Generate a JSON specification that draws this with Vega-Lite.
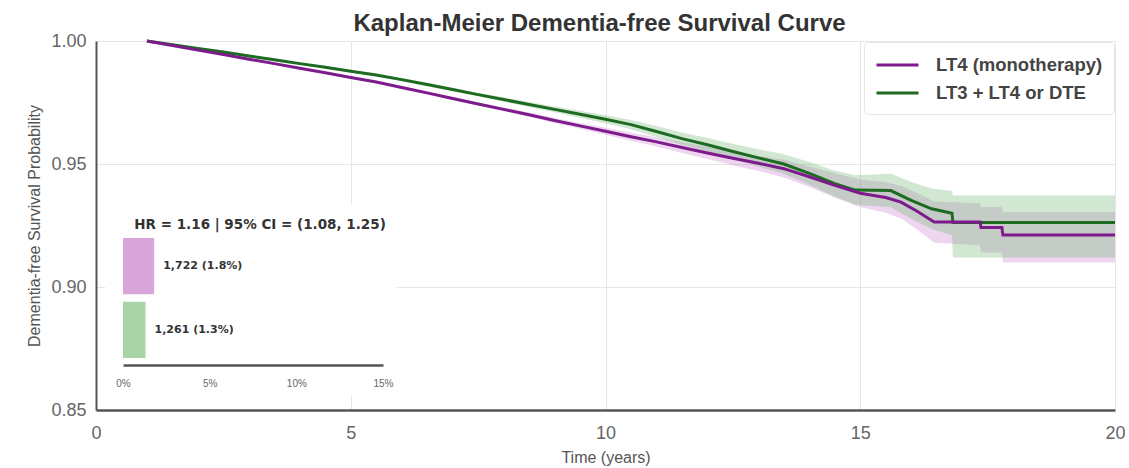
{
  "$schema": "https://vega.github.io/schema/vega-lite/v6.json",
  "width": 1019,
  "height": 369,
  "autosize": {"type": "none"},
  "padding": {"left": 96, "top": 41, "right": 14, "bottom": 58},
  "background": "white",
  "config": {"view": {"stroke": null}, "font": "Liberation Sans"},
  "title": {"text": "Kaplan-Meier Dementia-free Survival Curve", "fontSize": 24, "font": "Liberation Sans", "fontWeight": "bold", "color": "#333333", "anchor": "middle", "frame": "group", "offset": 3, "dy": 7, "dx": -6},
  "datasets": {
    "km": [
      {"g": "LT3 + LT4 or DTE", "t": 1.0, "s": 1.0, "lo": 0.9997, "hi": 1.0},
      {"g": "LT3 + LT4 or DTE", "t": 1.5, "s": 0.9985, "lo": 0.998, "hi": 0.999},
      {"g": "LT3 + LT4 or DTE", "t": 2.0, "s": 0.997, "lo": 0.9965, "hi": 0.9975},
      {"g": "LT3 + LT4 or DTE", "t": 2.5, "s": 0.9955, "lo": 0.995, "hi": 0.996},
      {"g": "LT3 + LT4 or DTE", "t": 3.0, "s": 0.9939, "lo": 0.9934, "hi": 0.9944},
      {"g": "LT3 + LT4 or DTE", "t": 3.5, "s": 0.9924, "lo": 0.9919, "hi": 0.9929},
      {"g": "LT3 + LT4 or DTE", "t": 4.0, "s": 0.9908, "lo": 0.9903, "hi": 0.9913},
      {"g": "LT3 + LT4 or DTE", "t": 4.5, "s": 0.9893, "lo": 0.9888, "hi": 0.9898},
      {"g": "LT3 + LT4 or DTE", "t": 5.0, "s": 0.9877, "lo": 0.9872, "hi": 0.9882},
      {"g": "LT3 + LT4 or DTE", "t": 5.5, "s": 0.9862, "lo": 0.9857, "hi": 0.9867},
      {"g": "LT3 + LT4 or DTE", "t": 6.0, "s": 0.9843, "lo": 0.9836, "hi": 0.985},
      {"g": "LT3 + LT4 or DTE", "t": 6.5, "s": 0.9823, "lo": 0.9816, "hi": 0.983},
      {"g": "LT3 + LT4 or DTE", "t": 7.0, "s": 0.9803, "lo": 0.9796, "hi": 0.981},
      {"g": "LT3 + LT4 or DTE", "t": 7.5, "s": 0.9782, "lo": 0.9775, "hi": 0.9789},
      {"g": "LT3 + LT4 or DTE", "t": 8.0, "s": 0.9762, "lo": 0.9753, "hi": 0.9771},
      {"g": "LT3 + LT4 or DTE", "t": 8.5, "s": 0.9742, "lo": 0.9732, "hi": 0.9752},
      {"g": "LT3 + LT4 or DTE", "t": 9.0, "s": 0.9722, "lo": 0.971, "hi": 0.9734},
      {"g": "LT3 + LT4 or DTE", "t": 9.5, "s": 0.9702, "lo": 0.9688, "hi": 0.9716},
      {"g": "LT3 + LT4 or DTE", "t": 10.0, "s": 0.9682, "lo": 0.9666, "hi": 0.9698},
      {"g": "LT3 + LT4 or DTE", "t": 10.5, "s": 0.966, "lo": 0.9641, "hi": 0.9679},
      {"g": "LT3 + LT4 or DTE", "t": 11.0, "s": 0.9632, "lo": 0.961, "hi": 0.9654},
      {"g": "LT3 + LT4 or DTE", "t": 11.5, "s": 0.9603, "lo": 0.9578, "hi": 0.9628},
      {"g": "LT3 + LT4 or DTE", "t": 12.0, "s": 0.9578, "lo": 0.955, "hi": 0.9606},
      {"g": "LT3 + LT4 or DTE", "t": 12.5, "s": 0.9551, "lo": 0.952, "hi": 0.9582},
      {"g": "LT3 + LT4 or DTE", "t": 13.0, "s": 0.9525, "lo": 0.949, "hi": 0.956},
      {"g": "LT3 + LT4 or DTE", "t": 13.5, "s": 0.95, "lo": 0.946, "hi": 0.954},
      {"g": "LT3 + LT4 or DTE", "t": 14.0, "s": 0.9462, "lo": 0.9416, "hi": 0.9508},
      {"g": "LT3 + LT4 or DTE", "t": 14.5, "s": 0.942, "lo": 0.9367, "hi": 0.9473},
      {"g": "LT3 + LT4 or DTE", "t": 14.9, "s": 0.9394, "lo": 0.9334, "hi": 0.9454},
      {"g": "LT3 + LT4 or DTE", "t": 15.6, "s": 0.9392, "lo": 0.9324, "hi": 0.946},
      {"g": "LT3 + LT4 or DTE", "t": 16.0, "s": 0.9352, "lo": 0.9277, "hi": 0.9427},
      {"g": "LT3 + LT4 or DTE", "t": 16.4, "s": 0.9318, "lo": 0.9236, "hi": 0.94},
      {"g": "LT3 + LT4 or DTE", "t": 16.8, "s": 0.93, "lo": 0.921, "hi": 0.939},
      {"g": "LT3 + LT4 or DTE", "t": 16.82, "s": 0.9262, "lo": 0.912, "hi": 0.9372},
      {"g": "LT3 + LT4 or DTE", "t": 20.0, "s": 0.9262, "lo": 0.912, "hi": 0.9372},
      {"g": "LT4 (monotherapy)", "t": 1.0, "s": 1.0, "lo": 0.9997, "hi": 1.0},
      {"g": "LT4 (monotherapy)", "t": 1.5, "s": 0.9982, "lo": 0.9978, "hi": 0.9986},
      {"g": "LT4 (monotherapy)", "t": 2.0, "s": 0.9963, "lo": 0.9959, "hi": 0.9967},
      {"g": "LT4 (monotherapy)", "t": 2.5, "s": 0.9945, "lo": 0.9941, "hi": 0.9949},
      {"g": "LT4 (monotherapy)", "t": 3.0, "s": 0.9926, "lo": 0.9922, "hi": 0.993},
      {"g": "LT4 (monotherapy)", "t": 3.5, "s": 0.9908, "lo": 0.9904, "hi": 0.9912},
      {"g": "LT4 (monotherapy)", "t": 4.0, "s": 0.9889, "lo": 0.9885, "hi": 0.9893},
      {"g": "LT4 (monotherapy)", "t": 4.5, "s": 0.9871, "lo": 0.9867, "hi": 0.9875},
      {"g": "LT4 (monotherapy)", "t": 5.0, "s": 0.9852, "lo": 0.9848, "hi": 0.9856},
      {"g": "LT4 (monotherapy)", "t": 5.5, "s": 0.9833, "lo": 0.9829, "hi": 0.9837},
      {"g": "LT4 (monotherapy)", "t": 6.0, "s": 0.9811, "lo": 0.9805, "hi": 0.9817},
      {"g": "LT4 (monotherapy)", "t": 6.5, "s": 0.9789, "lo": 0.9783, "hi": 0.9795},
      {"g": "LT4 (monotherapy)", "t": 7.0, "s": 0.9766, "lo": 0.976, "hi": 0.9772},
      {"g": "LT4 (monotherapy)", "t": 7.5, "s": 0.9744, "lo": 0.9738, "hi": 0.975},
      {"g": "LT4 (monotherapy)", "t": 8.0, "s": 0.9722, "lo": 0.9714, "hi": 0.973},
      {"g": "LT4 (monotherapy)", "t": 8.5, "s": 0.97, "lo": 0.9691, "hi": 0.9709},
      {"g": "LT4 (monotherapy)", "t": 9.0, "s": 0.9677, "lo": 0.9667, "hi": 0.9687},
      {"g": "LT4 (monotherapy)", "t": 9.5, "s": 0.9655, "lo": 0.9643, "hi": 0.9667},
      {"g": "LT4 (monotherapy)", "t": 10.0, "s": 0.9633, "lo": 0.9619, "hi": 0.9647},
      {"g": "LT4 (monotherapy)", "t": 10.5, "s": 0.9611, "lo": 0.9595, "hi": 0.9627},
      {"g": "LT4 (monotherapy)", "t": 11.0, "s": 0.959, "lo": 0.9571, "hi": 0.9609},
      {"g": "LT4 (monotherapy)", "t": 11.5, "s": 0.9567, "lo": 0.9545, "hi": 0.9589},
      {"g": "LT4 (monotherapy)", "t": 12.0, "s": 0.9545, "lo": 0.952, "hi": 0.957},
      {"g": "LT4 (monotherapy)", "t": 12.5, "s": 0.9523, "lo": 0.9495, "hi": 0.9551},
      {"g": "LT4 (monotherapy)", "t": 13.0, "s": 0.9503, "lo": 0.9472, "hi": 0.9534},
      {"g": "LT4 (monotherapy)", "t": 13.5, "s": 0.9481, "lo": 0.9445, "hi": 0.9517},
      {"g": "LT4 (monotherapy)", "t": 14.0, "s": 0.9448, "lo": 0.9406, "hi": 0.949},
      {"g": "LT4 (monotherapy)", "t": 14.5, "s": 0.9413, "lo": 0.9364, "hi": 0.9462},
      {"g": "LT4 (monotherapy)", "t": 15.0, "s": 0.9381, "lo": 0.9325, "hi": 0.9437},
      {"g": "LT4 (monotherapy)", "t": 15.5, "s": 0.9364, "lo": 0.9302, "hi": 0.9426},
      {"g": "LT4 (monotherapy)", "t": 15.8, "s": 0.9345, "lo": 0.9278, "hi": 0.9412},
      {"g": "LT4 (monotherapy)", "t": 16.1, "s": 0.931, "lo": 0.9236, "hi": 0.9384},
      {"g": "LT4 (monotherapy)", "t": 16.45, "s": 0.9264, "lo": 0.918, "hi": 0.9348},
      {"g": "LT4 (monotherapy)", "t": 17.35, "s": 0.9264, "lo": 0.917, "hi": 0.934},
      {"g": "LT4 (monotherapy)", "t": 17.37, "s": 0.9242, "lo": 0.914, "hi": 0.9325},
      {"g": "LT4 (monotherapy)", "t": 17.78, "s": 0.9242, "lo": 0.914, "hi": 0.9325},
      {"g": "LT4 (monotherapy)", "t": 17.8, "s": 0.9211, "lo": 0.91, "hi": 0.9305},
      {"g": "LT4 (monotherapy)", "t": 20.0, "s": 0.9211, "lo": 0.91, "hi": 0.9305}
    ],
    "inset": [
      {"grp": "LT4", "pct": 1.8, "label": "1,722 (1.8%)"},
      {"grp": "LT3", "pct": 1.3, "label": "1,261 (1.3%)"}
    ]
  },
  "layer": [
    {
      "layer": [
        {
          "data": {"values": [{}]},
          "mark": {"type": "rect", "fill": "white"},
          "encoding": {
            "x": {"datum": 0.18, "type": "quantitative"},
            "x2": {"datum": 5.91},
            "y": {"datum": 0.9335, "type": "quantitative"},
            "y2": {"datum": 0.856}
          }
        },
        {
          "data": {"name": "km"},
          "transform": [{"filter": {"field": "g", "equal": "LT4 (monotherapy)"}}],
          "mark": {"type": "area", "opacity": 0.32, "fill": "#c97fd2", "interpolate": "linear"},
          "encoding": {
            "x": {"field": "t", "type": "quantitative", "scale": {"domain": [0, 20], "nice": false},
              "axis": {"title": "Time (years)", "values": [0, 5, 10, 15, 20], "labelFlush": false, "grid": true, "gridColor": "#e6e6e6", "ticks": false, "domainColor": "#555555", "domainWidth": 2.5, "labelFontSize": 18, "labelColor": "#666666", "labelPadding": 14, "titleFontSize": 16, "titleFontWeight": "normal", "titleColor": "#555555", "titlePadding": 7}},
            "y": {"field": "lo", "type": "quantitative", "scale": {"domain": [0.85, 1.0], "nice": false, "zero": false},
              "axis": {"title": "Dementia-free Survival Probability", "values": [0.85, 0.9, 0.95, 1.0], "format": ".2f", "labelFlush": false, "grid": true, "gridColor": "#e6e6e6", "ticks": false, "domainColor": "#555555", "domainWidth": 2, "labelFontSize": 18, "labelColor": "#666666", "labelPadding": 10, "titleFontSize": 16, "titleFontWeight": "normal", "titleColor": "#555555", "titlePadding": 8}},
            "y2": {"field": "hi"}
          }
        },
        {
          "data": {"name": "km"},
          "transform": [{"filter": {"field": "g", "equal": "LT3 + LT4 or DTE"}}],
          "mark": {"type": "area", "opacity": 0.32, "fill": "#6fb36f", "interpolate": "linear"},
          "encoding": {
            "x": {"field": "t", "type": "quantitative"},
            "y": {"field": "lo", "type": "quantitative"},
            "y2": {"field": "hi"}
          }
        },
        {
          "data": {"name": "km"},
          "mark": {"type": "line", "strokeWidth": 3, "interpolate": "linear"},
          "encoding": {
            "x": {"field": "t", "type": "quantitative"},
            "y": {"field": "s", "type": "quantitative"},
            "stroke": {"field": "g", "type": "nominal", "scale": {"domain": ["LT4 (monotherapy)", "LT3 + LT4 or DTE"], "range": ["#7d1b8c", "#1d6b21"]},
              "legend": {"title": null, "orient": "top-right", "offset": 1, "padding": 11, "symbolType": "M-1,0H3", "symbolSize": 441, "symbolStrokeWidth": 3, "labelOffset": 37, "labelLimit": 400, "labelFontSize": 18.5, "labelFontWeight": "bold", "labelColor": "#444444", "rowPadding": 6, "strokeColor": "#e6e6e6", "fillColor": "white", "cornerRadius": 4}}
          }
        },
        {
          "data": {"values": [{}]},
          "mark": {"type": "text", "text": "HR = 1.16  |  95% CI = (1.08, 1.25)", "font": "DejaVu Sans", "fontSize": 13.5, "fontWeight": "bold", "color": "#333333", "align": "center", "baseline": "middle"},
          "encoding": {
            "x": {"datum": 3.22, "type": "quantitative"},
            "y": {"datum": 0.9252, "type": "quantitative"}
          }
        }
      ]
    },
    {
      "data": {"name": "inset"},
      "encoding": {
        "x": {"field": "pct", "type": "quantitative", "scale": {"domain": [0, 15], "range": [27, 287], "nice": false},
          "axis": {"orient": "bottom", "offset": -45, "zindex": 2, "values": [0, 5, 10, 15], "labelExpr": "datum.value + '%'", "labelFlush": false, "grid": false, "ticks": false, "domainColor": "#555555", "domainWidth": 2.5, "labelFontSize": 10, "labelColor": "#666666", "labelPadding": 13, "title": null}},
        "y": {"field": "grp", "type": "nominal", "scale": {"domain": ["LT4", "LT3"], "range": [197, 317], "paddingInner": 0.12, "paddingOuter": 0}, "axis": null}
      },
      "layer": [
        {
          "mark": {"type": "bar"},
          "encoding": {
            "color": {"field": "grp", "type": "nominal", "scale": {"domain": ["LT4", "LT3"], "range": ["#d9a6dc", "#a8d4a8"]}, "legend": null}
          }
        },
        {
          "mark": {"type": "text", "align": "left", "baseline": "middle", "dx": 9, "font": "DejaVu Sans", "fontSize": 11, "fontWeight": "bold", "color": "#333333"},
          "encoding": {"text": {"field": "label"}}
        }
      ]
    }
  ],
  "resolve": {"scale": {"x": "independent", "y": "independent"}}
}
